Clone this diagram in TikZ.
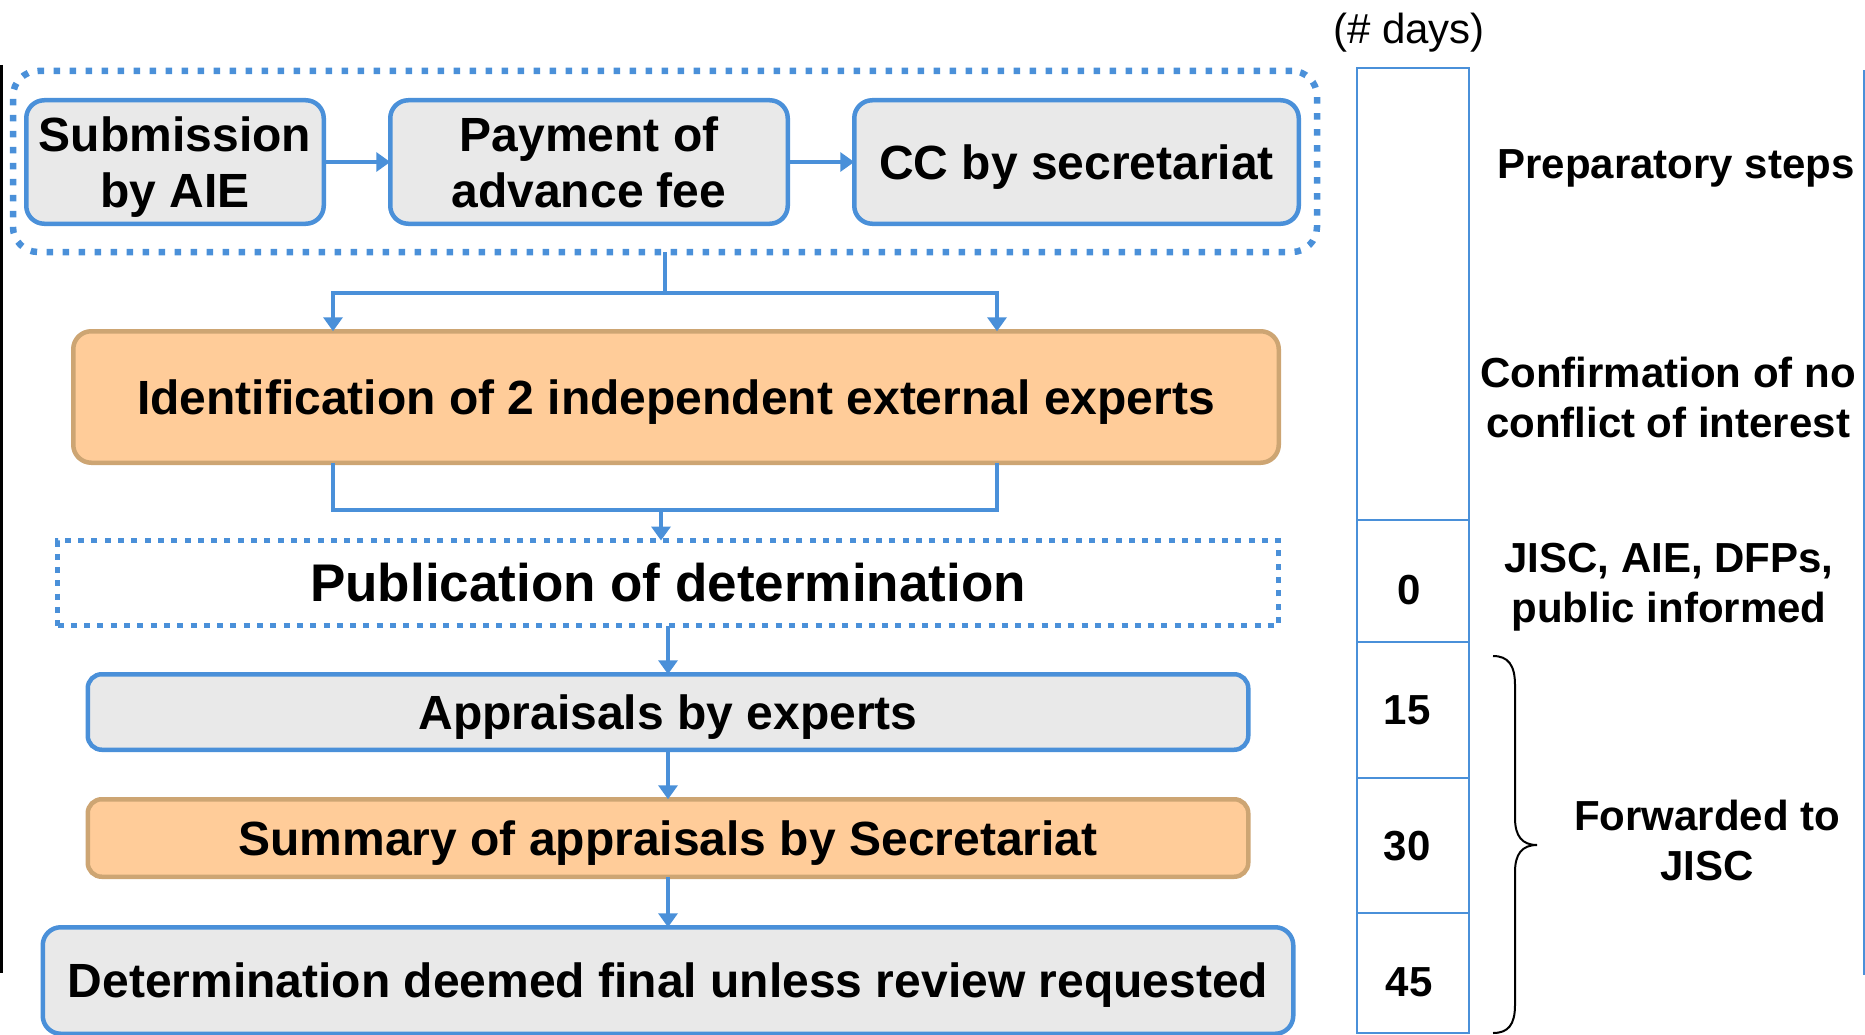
\documentclass[tikz,border=0pt]{standalone}
\usepackage{fontspec}
\setmainfont{Liberation Sans}
\usetikzlibrary{arrows.meta,calc}
\definecolor{bl}{RGB}{74,144,217}
\definecolor{grayF}{RGB}{233,233,233}
\definecolor{orangeF}{RGB}{255,204,153}
\definecolor{tanC}{RGB}{205,165,115}
\begin{document}
\begin{tikzpicture}[x=1pt,y=-1pt,
  every node/.style={inner sep=0pt,outer sep=0pt},
  boxfont/.style={font=\fontsize{48}{56}\selectfont\bfseries},
  gbox/.style={boxfont,draw=bl,line width=4.5pt,fill=grayF,rounded corners=18pt,align=center,text depth=0pt},
  obox/.style={boxfont,draw=tanC,line width=4.5pt,fill=orangeF,rounded corners=18pt,align=center,text depth=0pt},
  conn/.style={draw=bl,line width=4.5pt},
  arr/.style={conn,-{Triangle[width=19pt,length=14pt]}},
  daycell/.style={draw=bl,line width=2.5pt,minimum width=112pt},
  daynum/.style={font=\fontsize{42}{50}\selectfont\bfseries},
  lab/.style={font=\fontsize{42}{50}\selectfont\bfseries,align=center},
]
\useasboundingbox (0,0) rectangle (1865,1035);
\clip (0,0) rectangle (1865,1035);

% edge lines
\draw[line width=3pt] (1.5,65) -- (1.5,973);
\draw[bl,line width=2pt] (1863.5,70) -- (1863.5,975);

% preparatory group
\node[draw=bl,line width=6.5pt,dash pattern=on 6.5pt off 9.5pt,rounded corners=25pt,
      minimum width=1304pt,minimum height=181pt] (grp) at (665,161.5) {};
\node[gbox,minimum width=297.5pt,minimum height=123.5pt] (sub) at (175,162) {Submission\\by AIE};
\node[gbox,minimum width=397.5pt,minimum height=123.5pt] (pay) at (589,162) {Payment of\\advance fee};
\node[gbox,minimum width=444.5pt,minimum height=123.5pt] (cc) at (1076.5,162) {CC by secretariat};
\draw[arr] (sub.east) -- (pay.west);
\draw[arr] (pay.east) -- (cc.west);

% identification
\node[obox,minimum width=1205.5pt,minimum height=131.5pt] (ident) at (676,397)
  {Identification of 2 independent external experts};
\coordinate (jL) at (333,293);
\coordinate (jR) at (997,293);
\draw[arr] (grp.south) |- (jL) -- (jL |- ident.north);
\draw[arr] (grp.south) |- (jR) -- (jR |- ident.north);

% publication
\node[draw=bl,line width=5pt,dash pattern=on 6pt off 7.3pt,minimum width=1221pt,minimum height=85pt,
      font=\fontsize{53}{60}\selectfont\bfseries] (pub) at (668,583) {Publication of determination};
\coordinate (kL) at (333,510);
\coordinate (kR) at (997,510);
\coordinate (kM) at (661,510);
\draw[conn] (kL |- ident.south) -- (kL) -- (kR) -- (kR |- ident.south);
\draw[arr] (kM) -- (kM |- pub.north);

% lower steps
\node[gbox,rounded corners=14pt,minimum width=1160.5pt,minimum height=75.5pt] (appr) at (668,712) {Appraisals by experts};
\node[obox,rounded corners=14pt,minimum width=1160.5pt,minimum height=77.5pt] (summ) at (668,838) {Summary of appraisals by Secretariat};
\node[gbox,minimum width=1250.5pt,minimum height=106.5pt] (det) at (668,980.5) {Determination deemed final unless review requested};
\draw[arr] (pub.south) -- (appr.north);
\draw[arr] (appr.south) -- (summ.north);
\draw[arr] (summ.south) -- (det.north);

% days column
\node[font=\fontsize{42}{50}\selectfont] (dayshead) at (1409,33) {(\# days)};
\node[daycell,minimum height=452pt] (dtop) at (1413,294) {};
\node[daycell,minimum height=122pt] (d0) at (1413,581) {};
\node[daycell,minimum height=136pt] (d15) at (1413,710) {};
\node[daycell,minimum height=135pt] (d30) at (1413,845.5) {};
\node[daycell,minimum height=120pt] (d45) at (1413,973) {};
\node[daynum] (n0) at (1409,590) {0};
\node[daynum] (n15) at (1407,710) {15};
\node[daynum] (n30) at (1407,846) {30};
\node[daynum] (n45) at (1409,982) {45};

% right labels
\node[lab,text depth=0pt] (l1) at (1676,164) {Preparatory steps};
\node[lab] (l2) at (1668,397) {Confirmation of no\\conflict of interest};
\node[lab,text depth=0pt] (l3) at (1669,583) {JISC, AIE, DFPs,\\public informed};
\node[lab] (l4) at (1707,840) {Forwarded to\\JISC};

% brace
\draw[line width=2pt] (1493,656) .. controls (1508,656) and (1515,665) .. (1515,685)
  -- (1515,818) .. controls (1515,836) and (1522,845) .. (1537,845)
  .. controls (1522,845) and (1515,854) .. (1515,872)
  -- (1515,1005) .. controls (1515,1025) and (1508,1033) .. (1493,1033);
\end{tikzpicture}
\end{document}
